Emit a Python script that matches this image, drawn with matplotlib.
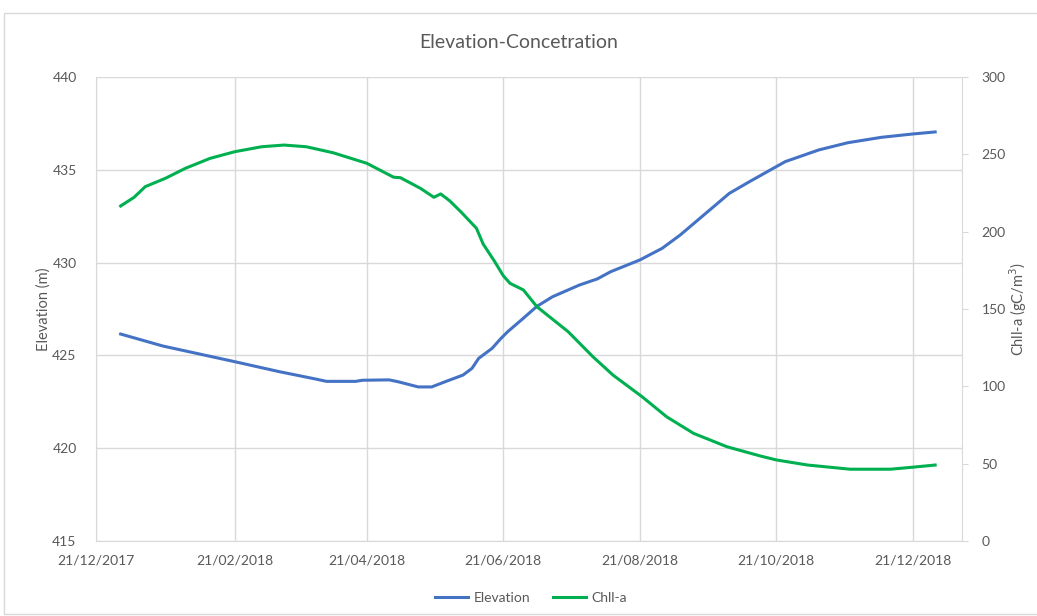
import pandas as pd
import matplotlib.pyplot as plt
from matplotlib.patches import Rectangle

plt.rcParams['font.family'] = ['Lato', 'DejaVu Sans']

# Reservoir elevation (m)
elev_dates = ["2018-01-01", "2018-01-20", "2018-02-21", "2018-03-13", "2018-03-29",
              "2018-04-03", "2018-04-16", "2018-04-19", "2018-05-01", "2018-05-05",
              "2018-05-14", "2018-05-20", "2018-05-26", "2018-06-03", "2018-06-07",
              "2018-06-10", "2018-06-16", "2018-06-20", "2018-06-23", "2018-06-29",
              "2018-07-06", "2018-07-13", "2018-07-25", "2018-08-02", "2018-08-08",
              "2018-08-21", "2018-08-31", "2018-09-08", "2018-09-17", "2018-09-30",
              "2018-10-09", "2018-10-21", "2018-10-25", "2018-11-09", "2018-11-22",
              "2018-12-07", "2018-12-21", "2018-12-31"]
elev_values = [426.15, 425.50, 424.66, 424.12, 423.73,
               423.60, 423.60, 423.66, 423.68, 423.58,
               423.30, 423.30, 423.58, 423.94, 424.30,
               424.84, 425.38, 425.92, 426.28, 426.90,
               427.64, 428.16, 428.79, 429.12, 429.51,
               430.14, 430.77, 431.48, 432.40, 433.73,
               434.36, 435.17, 435.44, 436.07, 436.46,
               436.75, 436.93, 437.04]

# Chlorophyll-a concentration (gC/m3)
chl_dates = ["2018-01-01", "2018-01-07", "2018-01-12", "2018-01-21", "2018-01-30",
             "2018-02-10", "2018-02-21", "2018-03-05", "2018-03-15", "2018-03-25",
             "2018-04-06", "2018-04-21", "2018-05-03", "2018-05-06", "2018-05-15",
             "2018-05-21", "2018-05-24", "2018-05-28", "2018-06-02", "2018-06-09",
             "2018-06-12", "2018-06-17", "2018-06-21", "2018-06-24", "2018-06-30",
             "2018-07-06", "2018-07-20", "2018-07-31", "2018-08-09", "2018-08-22",
             "2018-09-02", "2018-09-14", "2018-09-29", "2018-10-14", "2018-10-21",
             "2018-11-04", "2018-11-23", "2018-12-11", "2018-12-21", "2018-12-31"]
chl_values = [216.6, 222.2, 229.1, 234.5, 241.0,
              247.4, 251.7, 254.9, 256.0, 254.9,
              251.0, 244.2, 235.2, 234.9, 228.0,
              222.2, 224.4, 220.0, 212.9, 202.2,
              192.0, 181.0, 171.5, 166.6, 162.3,
              151.5, 135.3, 119.2, 107.3, 93.3,
              80.3, 69.6, 60.9, 54.9, 52.4,
              49.1, 46.4, 46.4, 47.7, 49.1]

tick_dates = ["2017-12-21", "2018-02-21", "2018-04-21", "2018-06-21",
              "2018-08-21", "2018-10-21", "2018-12-21"]
tick_labels = ["21/12/2017", "21/02/2018", "21/04/2018", "21/06/2018",
               "21/08/2018", "21/10/2018", "21/12/2018"]

TXT = '#595959'
GRID = '#d9d9d9'

fig = plt.figure(figsize=(10.37, 6.16), dpi=100)
# chart area border
fig.patches.append(Rectangle((0.004, 0.004), 1.0, 0.975, transform=fig.transFigure,
                             fill=False, edgecolor=GRID, linewidth=1))
ax = fig.add_axes([0.0926, 0.1218, 0.8351, 0.7532])
ax2 = ax.twinx()

l1, = ax.plot(pd.to_datetime(elev_dates), elev_values, color='#4472C4', lw=2.2,
              label='Elevation')
l2, = ax2.plot(pd.to_datetime(chl_dates), chl_values, color='#00B050', lw=2.2,
               label='Chll-a')

ax.set_xlim(pd.Timestamp("2017-12-21"), pd.Timestamp("2019-01-12"))
ax.set_ylim(415, 440)
ax2.set_ylim(0, 300)
ax.set_yticks(range(415, 441, 5))
ax2.set_yticks(range(0, 301, 50))
ax.set_xticks(pd.to_datetime(tick_dates))
ax.set_xticklabels(tick_labels)

ax.grid(True, color=GRID, lw=1)
ax.set_axisbelow(True)
for a in (ax, ax2):
    for s in a.spines.values():
        s.set_color(GRID)
    a.spines['top'].set_visible(False)
ax.spines['right'].set_visible(False)
ax2.spines['left'].set_visible(False)
ax2.spines['bottom'].set_visible(False)

ax.tick_params(axis='both', length=0, labelsize=10, labelcolor=TXT, pad=14)
ax.tick_params(axis='x', pad=10)
ax2.tick_params(axis='y', length=4, color=GRID, labelsize=10, labelcolor=TXT, pad=10)

ax.set_ylabel('Elevation (m)', fontsize=10.5, color=TXT, labelpad=1)
ax2.set_ylabel('Chll-a (gC/m$^3$)', fontsize=10.5, color=TXT, labelpad=1)
fig.suptitle('Elevation-Concetration', fontsize=14, color=TXT, y=0.945)

fig.legend(handles=[l1, l2], loc='lower center', bbox_to_anchor=(0.512, 0.0), ncol=2,
           frameon=False, fontsize=10, labelcolor=TXT, handlelength=2.4,
           handletextpad=0.4, columnspacing=1.6)

fig.savefig('out.png', dpi=100)
